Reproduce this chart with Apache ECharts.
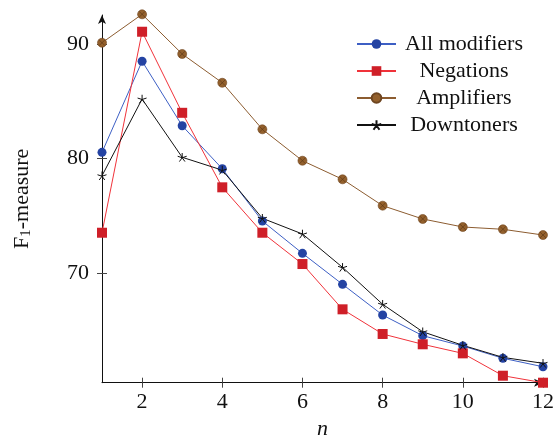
<!DOCTYPE html>
<html>
<head>
<meta charset="utf-8">
<script src="https://cdn.jsdelivr.net/npm/echarts@6/dist/echarts.min.js"></script>
<style>
  html, body { margin: 0; padding: 0; background: #fff; }
  #chart { width: 559px; height: 436px; }
</style>
</head>
<body>
<div id="chart"></div>
<script>
// x values (n)
let nValues = [1, 2, 3, 4, 5, 6, 7, 8, 9, 10, 11, 12];
let xTicks = [2, 4, 6, 8, 10, 12];
let yTicks = [70, 80, 90];

// F1-measure per series
let allModifiers = [80.55, 88.5, 82.87, 79.12, 74.56, 71.74, 69.04, 66.36, 64.56, 63.66, 62.59, 61.85];
let negations    = [73.54, 91.07, 84.0, 77.5, 73.54, 70.81, 66.86, 64.71, 63.81, 63.02, 61.07, 60.46];
let amplifiers   = [90.11, 92.59, 89.13, 86.62, 82.56, 79.82, 78.2, 75.9, 74.74, 74.04, 73.84, 73.34];
let downtoners   = [78.51, 85.2, 80.12, 79.0, 74.8, 73.43, 70.52, 67.3, 64.9, 63.72, 62.67, 62.15];

let seriesNames = ['All modifiers', 'Negations', 'Amplifiers', 'Downtoners'];

const FONT = 'Liberation Serif';
const FS = 22;
const starPath = 'path://M5,5L5,0M5,5L0.245,3.455M5,5L2.061,9.045M5,5L7.939,9.045M5,5L9.755,3.455';
const crossPath = 'path://M0,0L10,10M10,0L0,10';

function pairs(vals) {
  return vals.map((v, i) => [nValues[i], v]);
}

let myChart = echarts.init(document.getElementById('chart'));

let tickStyle = { color: '#444', width: 1 };

myChart.setOption({
  animation: false,
  textStyle: { fontFamily: FONT, color: '#111' },
  grid: { left: 102, right: 16, top: 15, bottom: 53.3, outerBoundsMode: 'none' },
  legend: {
    data: seriesNames,
    orient: 'vertical',
    left: 351,
    top: 28,
    itemWidth: 39,
    itemHeight: 12,
    itemGap: 5,
    textStyle: {
      fontFamily: FONT, fontSize: FS, color: '#111', lineHeight: 22,
      rich: { c: { width: 126, align: 'center', fontFamily: FONT, fontSize: FS, lineHeight: 22 } }
    },
    formatter: function (name) { return '{c|' + name + '}'; }
  },
  xAxis: [{
    type: 'value', min: 1, max: 12, position: 'bottom',
    name: 'n', nameLocation: 'middle', nameGap: 35,
    nameTextStyle: { fontFamily: FONT, fontSize: FS, fontStyle: 'italic', color: '#111' },
    axisLine: { onZero: false, lineStyle: { color: '#111', width: 1 }, symbol: ['none', 'arrow'], symbolSize: [6, 9] },
    axisTick: { show: true, length: 5, lineStyle: tickStyle, customValues: xTicks },
    axisLabel: { fontFamily: FONT, fontSize: FS, color: '#111', margin: 9, customValues: xTicks },
    splitLine: { show: false }
  }, {
    type: 'value', min: 1, max: 12, position: 'bottom', offset: 0,
    axisLine: { show: false, onZero: false },
    axisTick: { show: true, inside: true, length: 5, lineStyle: tickStyle, customValues: xTicks },
    axisLabel: { show: false },
    splitLine: { show: false }
  }],
  yAxis: [{
    type: 'value', min: 60.46, max: 92.53, position: 'left',
    name: 'F{s|1}-measure', nameLocation: 'middle', nameGap: 68, nameRotate: 90,
    nameTextStyle: {
      fontFamily: FONT, fontSize: FS, color: '#111',
      rich: { s: { fontFamily: FONT, fontSize: 15, color: '#111', padding: [8, 0, 0, 0] } }
    },
    axisLine: { onZero: false, lineStyle: { color: '#111', width: 1 }, symbol: ['none', 'arrow'], symbolSize: [6, 9] },
    axisTick: { show: true, length: 5, lineStyle: tickStyle, customValues: yTicks },
    axisLabel: { fontFamily: FONT, fontSize: FS, color: '#111', margin: 13, customValues: yTicks },
    splitLine: { show: false }
  }, {
    type: 'value', min: 60.46, max: 92.53, position: 'left', offset: 0,
    axisLine: { show: false, onZero: false },
    axisTick: { show: true, inside: true, length: 5, lineStyle: tickStyle, customValues: yTicks },
    axisLabel: { show: false },
    splitLine: { show: false }
  }],
  series: [
    {
      name: seriesNames[0], type: 'line', data: pairs(allModifiers), clip: false,
      symbol: 'circle', symbolSize: 9,
      lineStyle: { color: '#3d5fc4', width: 1 },
      itemStyle: { color: '#2443a3' }
    },
    {
      name: seriesNames[1], type: 'line', data: pairs(negations), clip: false,
      symbol: 'rect', symbolSize: 10,
      lineStyle: { color: '#f0323a', width: 1 },
      itemStyle: { color: '#cf1f28' }
    },
    {
      name: seriesNames[2], type: 'line', data: pairs(amplifiers), clip: false,
      symbol: 'circle', symbolSize: 9,
      lineStyle: { color: '#8c5c30', width: 1 },
      itemStyle: { color: '#93602c', borderColor: '#6e4520', borderWidth: 0.6 }
    },
    {
      name: 'amp-cross', type: 'scatter', data: pairs(amplifiers), silent: true, clip: false,
      symbol: crossPath, symbolSize: 6, z: 3,
      itemStyle: { color: 'none', borderColor: '#5a3614', borderWidth: 0.8 }
    },
    {
      name: seriesNames[3], type: 'line', data: pairs(downtoners), clip: false,
      symbol: starPath, symbolSize: 9, symbolKeepAspect: true,
      lineStyle: { color: '#111', width: 1 },
      itemStyle: { color: 'none', borderColor: '#111', borderWidth: 1 }
    }
  ]
});
</script>
</body>
</html>
